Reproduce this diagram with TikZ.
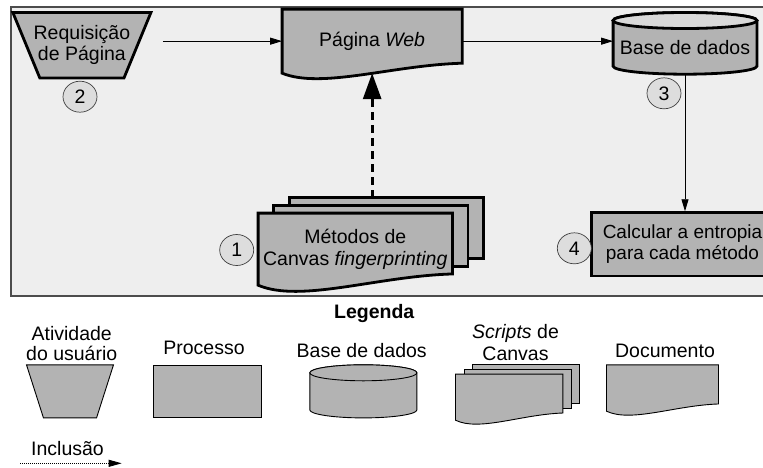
\documentclass[tikz,border=0pt]{standalone}
\usepackage{fontspec}
\setmainfont{Liberation Sans}
\usetikzlibrary{arrows.meta,calc,backgrounds,shapes.geometric}

\definecolor{shapegray}{HTML}{B3B3B3}
\definecolor{framegray}{HTML}{EEEEEE}
\definecolor{taggray}{HTML}{DDDDDD}
\definecolor{lidgray}{HTML}{D9D9D9}

% formas desenhadas a partir das ancoras de um no
\newcommand{\docshape}[2][]{%
  \draw[#1] let \p1=(#2.north west), \p2=(#2.south east), \n1={\x2-\x1}, \n2={\y2-\y1} in
    (\x1,\y1) -- (\x2,\y1) -- (\x2,{\y1+0.844*\n2})
    .. controls ({\x1+0.61*\n1},{\y1+0.875*\n2}) and ({\x1+0.22*\n1},{\y1+1.25*\n2}) .. (\x1,\y2) -- cycle;}
\newcommand{\trapshape}[2][]{%
  \draw[#1] let \p1=(#2.north west), \p2=(#2.south east), \n1={0.195*(\x2-\x1)} in
    (\x1,\y1) -- (\x2,\y1) -- ({\x2-\n1},\y2) -- ({\x1+\n1},\y2) -- cycle;}
\newcommand{\cylshape}[4][]{%
  \draw[#1] let \p1=(#2.north west), \p2=(#2.south east), \n1={(\x2-\x1)/2} in
    (\x1,\y1) -- (\x1,{\y2+#3pt}) arc[start angle=180, end angle=360, x radius={\n1*1pt}, y radius=#3pt]
    -- (\x2,\y1) arc[start angle=0, end angle=180, x radius={\n1*1pt}, y radius=#3pt] -- cycle;
  \draw[#1, fill=#4] let \p1=(#2.north west), \p2=(#2.south east), \n1={(\x2-\x1)/2} in
    ({\x1+\n1},\y1) ellipse[x radius={\n1*1pt}, y radius=#3pt];}
\newcommand{\stackshape}[4][]{%
  \foreach \k in {2,1}{%
    \draw[#1] let \p1=(#2.north west), \p2=(#2.south east), \n2={\y2-\y1} in
      ({\x1+\k*#3},{\y1+\k*#4}) rectangle ({\x2+\k*#3},{\y1+0.844*\n2+\k*#4});}
  \docshape[#1]{#2}}

\begin{document}
\begin{tikzpicture}[x=1pt,y=-1pt,
    font=\fontsize{19.5}{21.5}\selectfont,
    shapetext/.style={align=center, inner sep=1pt},
    mainshape/.style={draw, line width=2.8pt, fill=shapegray},
    keyshape/.style={draw, line width=0.9pt, fill=shapegray},
    numtag/.style={ellipse, draw=black!75, line width=0.7pt, fill=taggray,
      minimum width=34pt, minimum height=31pt, inner sep=0pt},
    keylabel/.style={align=center, font=\fontsize{19.5}{20}\selectfont},
    flow/.style={-{Triangle[length=12pt,width=7pt]}, line width=0.9pt},
    include/.style={-{Triangle[length=26pt,width=18pt]}, line width=3pt,
      dash pattern=on 8pt off 5pt},
    keyinclude/.style={-{Triangle[length=13pt,width=7pt]}, line width=0.8pt,
      dash pattern=on 1pt off 1pt}]
  \useasboundingbox (0,0) rectangle (763,467);

  % fluxo
  \node[shapetext, minimum width=137.7pt, minimum height=65pt] (req) at (81.9,45.2) {Requisição\\de Página};
  \node[shapetext, minimum width=179.7pt, minimum height=63.7pt] (web) at (372.15,41.15) {Página \textit{Web}};
  \node[shapetext, minimum width=143.4pt, minimum height=53.3pt] (db) at (685,47.35) {Base de dados};
  \node[shapetext, minimum width=194pt, minimum height=71.7pt] (met) at (355.3,249.15) {Métodos de\\Canvas \textit{fingerprinting}};
  \node[shapetext, mainshape, minimum width=182pt, minimum height=63.3pt,
    font=\fontsize{19}{21}\selectfont] (calc) at (682.5,244.3) {Calcular a entropia\\para cada método};

  \node[numtag] (t2) at (80,96.7) {2};
  \node[numtag] (t3) at (664,93.3) {3};
  \node[numtag] (t1) at (236.7,250) {1};
  \node[numtag] (t4) at (574.3,248.3) {4};

  \coordinate (metop) at ($(met.north)+(0,-15.6)$);
  \draw[flow, shorten <=11.8pt] (req.east |- web.west) -- (web.west);
  \draw[flow] (web.east) -- (web.east -| db.west);
  \draw[flow] (db.south) -- (db.south |- calc.north);
  \draw[include] (metop -| web.south) -- (web.south);

  % legenda
  \node (legend) at (374.3,313.3) {\textbf{Legenda}};
  \node[keylabel] (lbact) at (71.7,343.5) {Atividade\\do usuário};
  \node[shapetext, minimum width=86.6pt, minimum height=52.7pt] (kact) at (70,391.35) {};
  \node (lbproc) at (204,348.3) {Processo};
  \node[keyshape, minimum width=108.4pt, minimum height=52.7pt] (kproc) at (207.5,391.35) {};
  \node (lbdb) at (361.7,351) {Base de dados};
  \node[shapetext, minimum width=106.7pt, minimum height=44.7pt] (kdb) at (363.35,395.35) {};
  \node[keylabel, font=\fontsize{19.5}{21.5}\selectfont] (lbscr) at (515.5,342.5) {\textit{Scripts} de\\Canvas};
  \node[shapetext, minimum width=107pt, minimum height=45.7pt] (kscr) at (509.2,397.15) {};
  \node (lbdoc) at (665,351) {Documento};
  \node[shapetext, minimum width=111.6pt, minimum height=46pt] (kdoc) at (662.5,388) {};
  \node (lbinc) at (67.5,448.3) {Inclusão};
  \coordinate (incA) at (20,463.3);
  \coordinate (incB) at (121.7,463.3);
  \draw[keyinclude] (incA) -- (incB);

  \begin{scope}[on background layer]
    \fill[framegray] (11,7) rectangle (780,296);
    \draw[black!70, line width=1.2pt] (780,7) -- (11,7) -- (11,296) -- (780,296);
    \trapshape[mainshape]{req}
    \docshape[mainshape]{web}
    \cylshape[mainshape]{db}{8}{lidgray}
    \stackshape[mainshape]{met}{15.5}{7.8}
    \trapshape[keyshape]{kact}
    \cylshape[keyshape]{kdb}{8}{shapegray}
    \stackshape[keyshape]{kscr}{8.5}{5}
    \docshape[keyshape]{kdoc}
  \end{scope}
\end{tikzpicture}
\end{document}
